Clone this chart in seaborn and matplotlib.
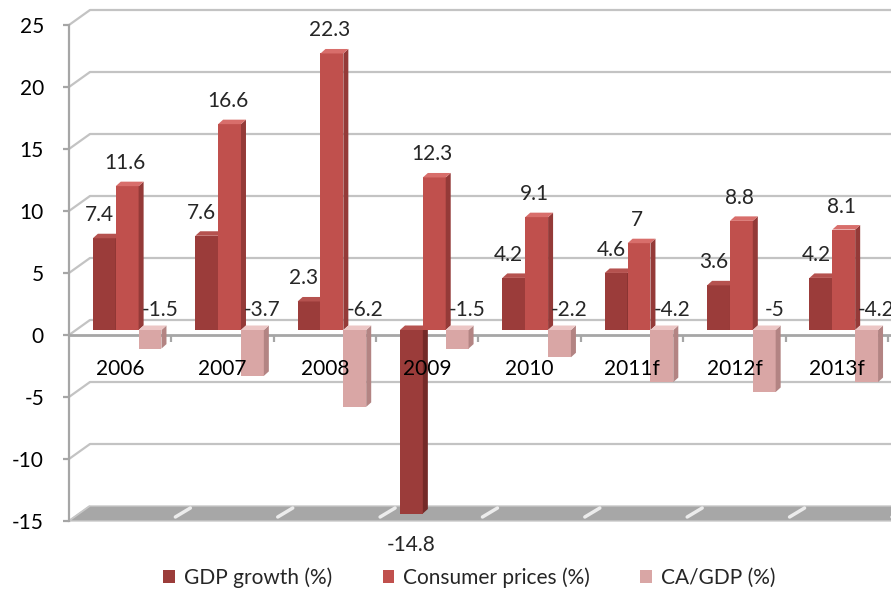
import matplotlib
matplotlib.use("Agg")
import matplotlib.pyplot as plt
from matplotlib.patches import Polygon, Patch
from matplotlib.ticker import FixedLocator
import pandas as pd
import seaborn as sns

# chart data
years = ["2006", "2007", "2008", "2009", "2010", "2011f", "2012f", "2013f"]
gdp_growth = [7.4, 7.6, 2.3, -14.8, 4.2, 4.6, 3.6, 4.2]
consumer_prices = [11.6, 16.6, 22.3, 12.3, 9.1, 7.0, 8.8, 8.1]
ca_gdp = [-1.5, -3.7, -6.2, -1.5, -2.2, -4.2, -5.0, -4.2]
series_names = ["GDP growth (%)", "Consumer prices (%)", "CA/GDP (%)"]
y_ticks = [-15, -10, -5, 0, 5, 10, 15, 20, 25]

df = pd.DataFrame({
    "year": years * 3,
    "series": [s for s in series_names for _ in years],
    "value": gdp_growth + consumer_prices + ca_gdp,
})

front = ["#9b3c3a", "#c0504d", "#d9a6a5"]
side = ["#742a28", "#943a38", "#b38483"]
top = ["#b5524f", "#d86e6b", "#ecc6c5"]
grid_col = "#c3c3c3"
axis_col = "#a6a6a6"

sns.set_theme(style="white")
plt.rcParams["font.family"] = ["Lato", "DejaVu Sans"]

W, H = 891, 590
fig = plt.figure(figsize=(W / 100, H / 100), dpi=100)
ax = fig.add_axes([69 / W, 0, 822 / W, 1])

sns.barplot(data=df, x="year", y="value", hue="series", palette=front,
            width=0.67, saturation=1, errorbar=None, legend=False,
            linewidth=0, ax=ax)

XMIN, XMAX = -0.5, 7.53
YMIN, YMAX = -20.565, 27.016
ax.set_xlim(XMIN, XMAX)
ax.set_ylim(YMIN, YMAX)
px_x = 822 / (XMAX - XMIN)
px_y = H / (YMAX - YMIN)


def dx(p):
    return p / px_x


def dy(p):
    return p / px_y


# 3d offsets in pixels
BX, BY = 21, 15      # back wall
FX, FY = 7, 5        # bar front face
DX, DY = 5, 4.5      # bar depth

# back wall gridlines and left wall diagonals
for v in y_ticks:
    ax.plot([XMIN, XMIN + dx(BX)], [v, v + dy(BY)], color=grid_col, lw=1.6,
            zorder=1, solid_capstyle="butt")
    if v != -15:
        ax.plot([XMIN + dx(BX), XMAX + 1], [v + dy(BY)] * 2, color=grid_col,
                lw=1.6, zorder=1, clip_on=False)

# floor
ax.add_patch(Polygon([(XMIN, -15), (XMAX + 1, -15),
                      (XMAX + 1 + dx(BX), -15 + dy(BY)),
                      (XMIN + dx(BX), -15 + dy(BY))],
                     closed=True, facecolor="#a7a7a7", edgecolor="#c8c8c8",
                     lw=1, zorder=1.5))
for i in range(len(years)):
    b = i + 0.5
    ax.plot([b + dx(4), b + dx(BX - 2)], [-15 + dy(4), -15 + dy(BY - 2)],
            color="#ececec", lw=2.5, zorder=1.6)

# bars with side and top faces
for j, cont in enumerate(ax.containers):
    for i, rect in enumerate(cont.patches):
        x0 = rect.get_x() + dx(FX)
        w = rect.get_width()
        y = rect.get_y()
        h = rect.get_height()
        b = min(y, y + h) + dy(FY)
        t = max(y, y + h) + dy(FY)
        rect.set_x(x0)
        rect.set_y(b)
        rect.set_height(t - b)
        rect.set_facecolor(front[j])
        rect.set_zorder(3 + j * 0.1)
        x1 = x0 + w
        ax.add_patch(Polygon([(x1, b), (x1, t), (x1 + dx(DX), t + dy(DY)),
                              (x1 + dx(DX), b + dy(DY))], closed=True,
                             facecolor=side[j], lw=0, zorder=3 + j * 0.1))
        ax.add_patch(Polygon([(x0, t), (x1, t), (x1 + dx(DX), t + dy(DY)),
                              (x0 + dx(DX), t + dy(DY))], closed=True,
                             facecolor=top[j], lw=0, zorder=3 + j * 0.1))

        val = df[df["series"] == series_names[j]]["value"].iloc[i]
        txt = f"{val:g}"
        xc = x0 + w / 2
        if j == 2:
            ax.annotate(txt, (xc, t), xytext=(10, 20), textcoords="offset pixels",
                        ha="center", va="center", fontsize=15, zorder=6,
                        annotation_clip=False)
        elif val >= 0:
            ax.annotate(txt, (xc, t), xytext=(-5 if j == 0 else -2, 23),
                        textcoords="offset pixels", ha="center", va="center",
                        fontsize=15, zorder=6)
        else:
            ax.annotate(txt, (xc, b), xytext=(0, -31), textcoords="offset pixels",
                        ha="center", va="center", fontsize=15, zorder=6)

# axes
for s in ["top", "right"]:
    ax.spines[s].set_visible(False)
ax.spines["left"].set_bounds(-15, 25)
ax.spines["left"].set_color(axis_col)
ax.spines["left"].set_linewidth(1.6)
ax.spines["left"].set_zorder(2)
ax.spines["bottom"].set_position(("data", 0))
ax.spines["bottom"].set_color(axis_col)
ax.spines["bottom"].set_linewidth(2)
ax.spines["bottom"].set_zorder(2)

ax.set_yticks(y_ticks)
ax.set_yticklabels([str(v) for v in y_ticks])
ax.tick_params(axis="y", left=True, length=4.5, width=1.6, color=axis_col,
               pad=13.5, labelsize=15, labelcolor="black")
ax.set_xticks(range(len(years)))
ax.set_xticklabels(years)
ax.xaxis.set_minor_locator(FixedLocator([i + 0.5 for i in range(len(years))]))
ax.tick_params(axis="x", which="major", bottom=True, length=0, pad=17,
               labelsize=15, labelcolor="black")
ax.tick_params(axis="x", which="minor", bottom=True, length=5, width=1.6,
               color=axis_col)
ax.xaxis.set_zorder(6)
ax.set_xlabel("")
ax.set_ylabel("")

handles = [Patch(facecolor=front[j], edgecolor="none") for j in range(3)]
fig.legend(handles, series_names, loc="center", bbox_to_anchor=(0.527, 0.021),
           ncol=3, frameon=False, fontsize=15, handlelength=0.55,
           handleheight=0.55, handletextpad=0.45, columnspacing=2.4)

fig.savefig("out.png", dpi=100)
